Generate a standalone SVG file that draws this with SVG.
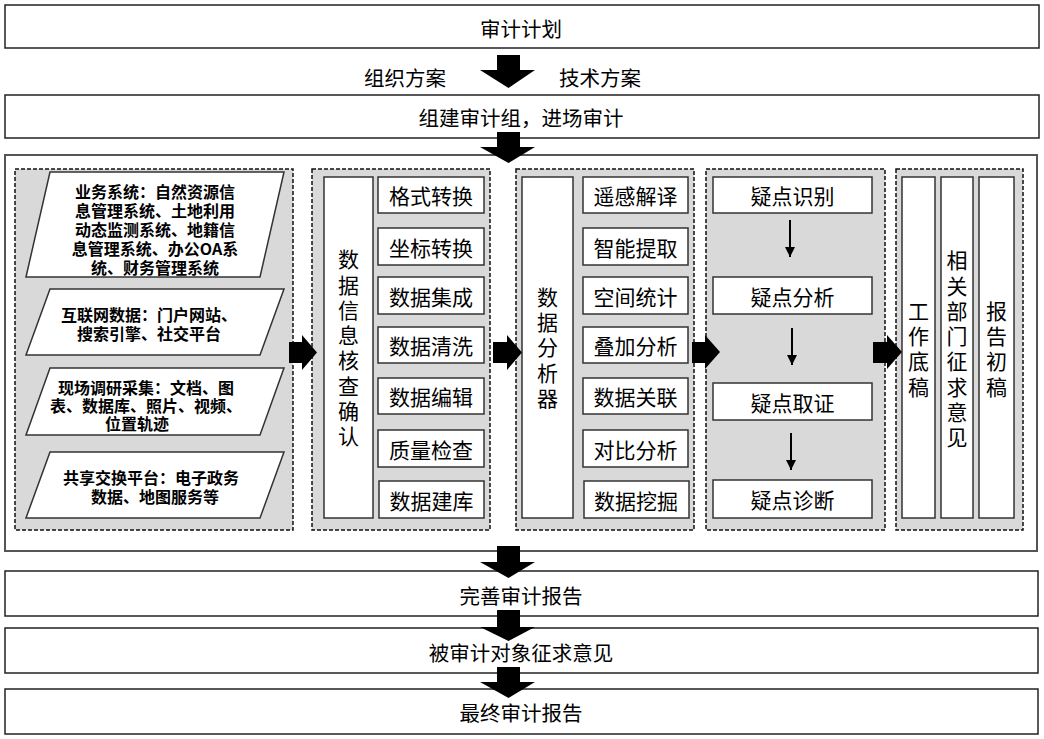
<svg xmlns="http://www.w3.org/2000/svg" width="1044" height="739" viewBox="0 0 1044 739">
<style>
text{font-family:"Noto Sans CJK SC","Liberation Sans",sans-serif;fill:#000;text-anchor:middle;dominant-baseline:central}
.box{fill:#fff;stroke:#222;stroke-width:1.5}
.cont{fill:#fff;stroke:#555;stroke-width:2}
.panel{fill:#d9d9d9;stroke:#111;stroke-width:1.5;stroke-dasharray:4 2}
.ibox{fill:#fff;stroke:#333;stroke-width:1.5}
.big{font-size:20.5px}
.mid{font-size:21px}
.vert{font-size:21px;writing-mode:vertical-rl;letter-spacing:4.3px}
.src{font-size:16px;font-weight:bold}
.blk{fill:#000}
</style>
<defs>
<marker id="ah" viewBox="0 0 10 10" refX="10" refY="5" markerWidth="10" markerHeight="10" markerUnits="userSpaceOnUse" orient="auto">
<path d="M0,0 L10,5 L0,10 Z" fill="#000"/>
</marker>
</defs>

<g id="n-plan"><rect class="box" x="5" y="5" width="1034" height="43"/><text class="big" x="521" y="28">审计计划</text></g>
<g id="n-labels"><text class="big" x="405" y="77">组织方案</text><text class="big" x="600" y="77">技术方案</text></g>
<g id="n-team"><rect class="box" x="5" y="95" width="1034" height="43"/><text class="big" x="521" y="117">组建审计组，进场审计</text></g>

<g id="n-container"><rect class="cont" x="5" y="155" width="1032" height="396"/></g>

<g id="n-sources">
<rect class="panel" x="15" y="169" width="278" height="361"/>
<polygon class="ibox" points="50,172 284,172 260,277 26,277"/>
<text class="src"><tspan x="155" y="191">业务系统：自然资源信</tspan><tspan x="155" y="210">息管理系统、土地利用</tspan><tspan x="155" y="229">动态监测系统、地籍信</tspan><tspan x="155" y="248">息管理系统、办公OA系</tspan><tspan x="155" y="267">统、财务管理系统</tspan></text>
<polygon class="ibox" points="50,289 284,289 260,355 26,355"/>
<text class="src"><tspan x="149" y="314">互联网数据：门户网站、</tspan><tspan x="149" y="333">搜索引擎、社交平台</tspan></text>
<polygon class="ibox" points="50,368 284,368 260,435 26,435"/>
<text class="src"><tspan x="146" y="387">现场调研采集：文档、图</tspan><tspan x="146" y="405">表、数据库、照片、视频、</tspan><tspan x="137" y="423">位置轨迹</tspan></text>
<polygon class="ibox" points="50,452 284,452 260,518 26,518"/>
<text class="src"><tspan x="151" y="477">共享交换平台：电子政务</tspan><tspan x="155" y="496">数据、地图服务等</tspan></text>
</g>

<g id="n-check">
<rect class="panel" x="312" y="169" width="178" height="361"/>
<rect class="ibox" x="324" y="177" width="49" height="341"/>
<text class="vert" x="348.5" y="350">数据信息核查确认</text>
<rect class="ibox" x="378" y="177" width="106" height="36"/><text class="mid" x="431" y="195">格式转换</text>
<rect class="ibox" x="378" y="228" width="106" height="37"/><text class="mid" x="431" y="246.5">坐标转换</text>
<rect class="ibox" x="378" y="277" width="106" height="37"/><text class="mid" x="431" y="295.5">数据集成</text>
<rect class="ibox" x="378" y="327" width="106" height="36"/><text class="mid" x="431" y="345">数据清洗</text>
<rect class="ibox" x="378" y="378" width="106" height="36"/><text class="mid" x="431" y="396">数据编辑</text>
<rect class="ibox" x="378" y="430" width="106" height="37"/><text class="mid" x="431" y="448.5">质量检查</text>
<rect class="ibox" x="379" y="481" width="105" height="37"/><text class="mid" x="431.5" y="499.5">数据建库</text>
</g>

<g id="n-analyze">
<rect class="panel" x="516" y="169" width="178" height="361"/>
<rect class="ibox" x="522" y="177" width="51" height="341"/>
<text class="vert" x="547.5" y="349.5">数据分析器</text>
<rect class="ibox" x="583" y="177" width="105" height="36"/><text class="mid" x="635.5" y="195">遥感解译</text>
<rect class="ibox" x="583" y="228" width="105" height="37"/><text class="mid" x="635.5" y="246.5">智能提取</text>
<rect class="ibox" x="583" y="277" width="105" height="37"/><text class="mid" x="635.5" y="295.5">空间统计</text>
<rect class="ibox" x="583" y="327" width="105" height="36"/><text class="mid" x="635.5" y="345">叠加分析</text>
<rect class="ibox" x="583" y="378" width="105" height="36"/><text class="mid" x="635.5" y="396">数据关联</text>
<rect class="ibox" x="583" y="430" width="105" height="37"/><text class="mid" x="635.5" y="448.5">对比分析</text>
<rect class="ibox" x="584" y="481" width="105" height="37"/><text class="mid" x="636" y="499.5">数据挖掘</text>
</g>

<g id="n-doubt">
<rect class="panel" x="706" y="169" width="179" height="361"/>
<rect class="ibox" x="713" y="177" width="159" height="36"/><text class="mid" x="792.5" y="195">疑点识别</text>
<rect class="ibox" x="713" y="277" width="159" height="37"/><text class="mid" x="792.5" y="295.5">疑点分析</text>
<rect class="ibox" x="713" y="383" width="159" height="37"/><text class="mid" x="792.5" y="401.5">疑点取证</text>
<rect class="ibox" x="713" y="480" width="159" height="38"/><text class="mid" x="792.5" y="499">疑点诊断</text>
</g>

<g id="n-draft">
<rect class="panel" x="896" y="169" width="127" height="361"/>
<rect class="ibox" x="902" y="177" width="33" height="341"/>
<text class="vert" x="918.5" y="351">工作底稿</text>
<rect class="ibox" x="941" y="177" width="32" height="341"/>
<text class="vert" x="957" y="351">相关部门征求意见</text>
<rect class="ibox" x="979" y="177" width="35" height="341"/>
<text class="vert" x="996.5" y="351">报告初稿</text>
</g>

<g id="n-improve"><rect class="box" x="5" y="571" width="1033" height="45"/><text class="big" x="521" y="595">完善审计报告</text></g>
<g id="n-opinion"><rect class="box" x="5" y="628" width="1033" height="45"/><text class="big" x="521" y="652">被审计对象征求意见</text></g>
<g id="n-final"><rect class="box" x="5" y="689" width="1033" height="45"/><text class="big" x="521" y="712">最终审计报告</text></g>

<g id="connectors">
<polygon class="blk" points="497,55 520,55 520,70 535,70 508.5,88 480,70 497,70"/>
<polygon class="blk" points="497,132 520,132 520,147 535,147 508.5,163 480,147 497,147"/>
<polygon class="blk" points="497,546 520,546 520,562 535,562 508.5,578 480,562 497,562"/>
<polygon class="blk" points="497,610 520,610 520,627 535,627 508.5,641 480,627 497,627"/>
<polygon class="blk" points="497,667 520,667 520,682 535,682 508.5,698 480,682 497,682"/>
<polygon class="blk" points="289,342 302,342 302,335 317,352.5 302,370 302,363 289,363"/>
<polygon class="blk" points="493,342 507,342 507,335 522,352.5 507,370 507,363 493,363"/>
<polygon class="blk" points="692,342 705,342 705,335 720,352 705,369 705,363 692,363"/>
<polygon class="blk" points="873,342 887,342 887,335 902,352 887,369 887,363 873,363"/>
<line x1="790" y1="220" x2="790" y2="257" stroke="#000" stroke-width="2" marker-end="url(#ah)"/>
<line x1="792" y1="328" x2="792" y2="365" stroke="#000" stroke-width="2" marker-end="url(#ah)"/>
<line x1="791" y1="433" x2="791" y2="470" stroke="#000" stroke-width="2" marker-end="url(#ah)"/>
</g>
</svg>
